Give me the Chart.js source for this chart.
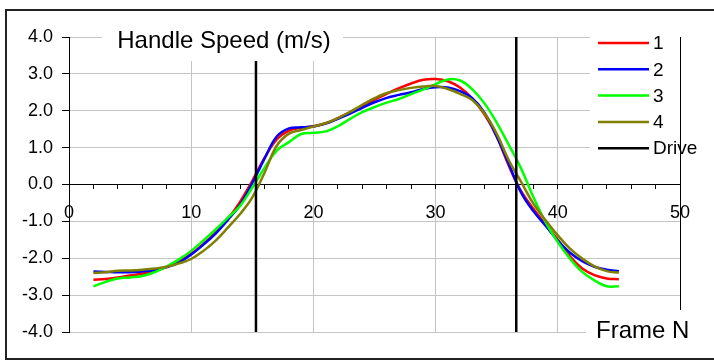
<!DOCTYPE html>
<html>
<head>
<meta charset="utf-8">
<title>Handle Speed</title>
<script src="https://cdn.jsdelivr.net/npm/chart.js@4.4.1/dist/chart.umd.min.js"></script>
<style>
    html, body { margin: 0; padding: 0; background: #fff; }
    canvas { display: block; }
</style>
</head>
<body>
<canvas id="grafico" width="714" height="360"></canvas>
<script>
// dados
const frames = [2, 3, 4, 5, 6, 7, 8, 9, 10, 11,
    12, 13, 14, 15, 16, 17, 18, 19, 20, 21,
    22, 23, 24, 25, 26, 27, 28, 29, 30, 31,
    32, 33, 34, 35, 36, 37, 38, 39, 40, 41,
    42, 43, 44, 45];

const serie1 = [-2.58, -2.56, -2.52, -2.47, -2.42, -2.34, -2.24, -2.09, -1.88, -1.61,
    -1.30, -0.93, -0.47, 0.10, 0.72, 1.22, 1.46, 1.54, 1.58, 1.66,
    1.80, 1.96, 2.13, 2.30, 2.46, 2.61, 2.74, 2.84, 2.86, 2.80,
    2.63, 2.33, 1.90, 1.30, 0.50, -0.18, -0.66, -1.08, -1.50, -1.95,
    -2.28, -2.46, -2.55, -2.57];

const serie2 = [-2.36, -2.37, -2.38, -2.38, -2.36, -2.32, -2.24, -2.12, -1.90, -1.63,
    -1.33, -0.96, -0.55, 0.04, 0.70, 1.30, 1.52, 1.55, 1.57, 1.65,
    1.78, 1.92, 2.08, 2.23, 2.35, 2.43, 2.50, 2.59, 2.64, 2.63,
    2.53, 2.34, 1.95, 1.30, 0.55, -0.22, -0.72, -1.12, -1.52, -1.85,
    -2.08, -2.23, -2.31, -2.35];

const serie3 = [-2.76, -2.64, -2.55, -2.52, -2.48, -2.38, -2.22, -2.03, -1.80, -1.52,
    -1.22, -0.90, -0.58, -0.08, 0.45, 0.92, 1.15, 1.37, 1.40, 1.44,
    1.58, 1.78, 1.96, 2.10, 2.22, 2.32, 2.45, 2.58, 2.72, 2.85,
    2.82, 2.58, 2.20, 1.68, 1.07, 0.43, -0.34, -1.02, -1.56, -2.01,
    -2.37, -2.60, -2.76, -2.76];

const serie4 = [-2.40, -2.38, -2.34, -2.33, -2.31, -2.28, -2.23, -2.14, -2.02, -1.80,
    -1.52, -1.17, -0.80, -0.35, 0.32, 1.05, 1.38, 1.48, 1.57, 1.66,
    1.80, 1.97, 2.16, 2.34, 2.48, 2.56, 2.62, 2.66, 2.67, 2.59,
    2.46, 2.29, 1.93, 1.38, 0.65, 0.07, -0.52, -0.97, -1.38, -1.74,
    -2.01, -2.22, -2.35, -2.39];

// linhas verticais "Drive"
const driveFrames = [15.3, 36.6];

const xLimits = [0, 50];
const yLimits = [-4, 4];
const xLabelEvery = 10;

const titulo = "Handle Speed (m/s)";
const tituloEixoX = "Frame N";
const nomes = ["1", "2", "3", "4", "Drive"];
const cores = ["#ff0000", "#0000ff", "#00ff00", "#808000", "#000000"];

const fonte = "'Liberation Sans', Arial, sans-serif";

const montaPontos = (valores) => frames.map((f, i) => ({ x: f, y: valores[i] }));

// duas verticais com um buraco no meio
const pontosDrive = [];
driveFrames.forEach((f, i) => {
    if (i > 0) pontosDrive.push({ x: f, y: null });
    pontosDrive.push({ x: f, y: yLimits[0] });
    pontosDrive.push({ x: f, y: yLimits[1] });
});

const series = [serie1, serie2, serie3, serie4];
const datasets = series.map((s, i) => ({
    label: nomes[i],
    data: montaPontos(s),
    borderColor: cores[i],
    borderWidth: 2.5,
    pointRadius: 0,
    tension: 0.4,
    fill: false,
    order: 4 - i
}));
datasets.push({
    label: nomes[4],
    data: pontosDrive,
    borderColor: cores[4],
    borderWidth: 2.5,
    pointRadius: 0,
    tension: 0,
    spanGaps: false,
    fill: false,
    order: 0
});

// caixas brancas, titulo, legenda e moldura
const extras = {
    id: "extras",
    afterDraw(chart) {
        const ctx = chart.ctx;
        const area = chart.chartArea;
        const xs = chart.scales.x;
        ctx.save();

        // titulo dentro da area
        ctx.fillStyle = "#fff";
        ctx.fillRect(102, 12, 241, 49);
        ctx.fillStyle = "#000";
        ctx.font = "24px " + fonte;
        ctx.textAlign = "center";
        ctx.textBaseline = "alphabetic";
        ctx.fillText(titulo, 224, 48);

        // legenda
        ctx.fillStyle = "#fff";
        ctx.fillRect(590, 28, 130, 137);
        ctx.font = "19px " + fonte;
        ctx.textAlign = "left";
        ctx.textBaseline = "middle";
        nomes.forEach((nome, i) => {
            const y = 43 + i * 26.3;
            ctx.strokeStyle = cores[i];
            ctx.lineWidth = 2.5;
            ctx.beginPath();
            ctx.moveTo(598, y);
            ctx.lineTo(649, y);
            ctx.stroke();
            ctx.fillStyle = "#000";
            ctx.fillText(nome, 653, y + 1);
        });

        // titulo do eixo x
        ctx.fillStyle = "#fff";
        ctx.fillRect(586, 310, 140, 42);
        ctx.fillStyle = "#000";
        ctx.font = "24px " + fonte;
        ctx.textBaseline = "alphabetic";
        ctx.fillText(tituloEixoX, 596, 338);

        // linha vertical em x = 50
        const xr = Math.round(xs.getPixelForValue(xLimits[1])) + 0.5;
        ctx.strokeStyle = "#000";
        ctx.lineWidth = 1;
        ctx.beginPath();
        ctx.moveTo(xr, area.top);
        ctx.lineTo(xr, 310);
        ctx.stroke();

        // moldura externa
        ctx.strokeStyle = "#222";
        ctx.lineWidth = 2;
        ctx.strokeRect(6, 10, 720, 349);
        ctx.restore();
    }
};

new Chart(document.getElementById("grafico"), {
    type: "line",
    data: { datasets: datasets },
    plugins: [extras],
    options: {
        responsive: false,
        animation: false,
        layout: { padding: { left: 0, right: 34, top: 37, bottom: 28 } },
        plugins: {
            legend: { display: false },
            tooltip: { enabled: false },
            title: { display: false }
        },
        scales: {
            x: {
                type: "linear",
                position: { y: 0 },
                min: xLimits[0],
                max: xLimits[1],
                ticks: {
                    stepSize: 2,
                    autoSkip: false,
                    maxRotation: 0,
                    padding: 14,
                    color: "#000",
                    font: { family: fonte, size: 18 },
                    callback: (v) => (v % xLabelEvery === 0 ? String(v) : "")
                },
                grid: {
                    color: (c) => {
                        const v = c.tick ? c.tick.value : null;
                        if (v === null || v === xLimits[0] || v === xLimits[1]) return "rgba(0,0,0,0)";
                        return v % xLabelEvery === 0 ? "#c4c4c4" : "rgba(0,0,0,0)";
                    },
                    tickColor: "#000",
                    tickLength: 4,
                    lineWidth: 1
                },
                border: { display: true, color: "#000", width: 1 }
            },
            y: {
                min: yLimits[0],
                max: yLimits[1],
                afterFit: (scale) => { scale.width = 69; },
                ticks: {
                    stepSize: 1,
                    padding: 9,
                    color: "#000",
                    font: { family: fonte, size: 18 },
                    callback: (v) => v.toFixed(1)
                },
                grid: {
                    color: "#c4c4c4",
                    tickColor: "#000",
                    tickLength: 7,
                    lineWidth: 1
                },
                border: { display: true, color: "#000", width: 1 }
            }
        }
    }
});
</script>
</body>
</html>
